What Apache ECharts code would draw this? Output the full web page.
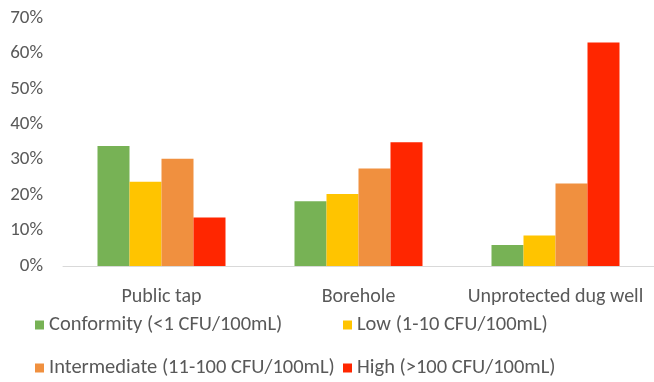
<!DOCTYPE html>
<html>
<head>
<meta charset="utf-8">
<script src="https://cdn.jsdelivr.net/npm/echarts@6/dist/echarts.min.js"></script>
<style>
  html, body { margin: 0; padding: 0; background: #ffffff; }
  #chart { width: 654px; height: 382px; }
</style>
</head>
<body>
<div id="chart"></div>
<script>
// Share of samples (%) in each contamination class, by water source
const categories = ['Public tap', 'Borehole', 'Unprotected dug well'];
const conformity = [33.9, 18.3, 5.9];
const low = [23.8, 20.3, 8.6];
const intermediate = [30.3, 27.5, 23.3];
const high = [13.7, 34.9, 63.1];
const seriesNames = [
  'Conformity (<1 CFU/100mL)',
  'Low (1-10 CFU/100mL)',
  'Intermediate (11-100 CFU/100mL)',
  'High (>100 CFU/100mL)'
];
const yTicks = { min: 0, max: 70, interval: 10 };

const colors = ['#77B255', '#FFC400', '#F0903F', '#FF2600'];
const FONT = 'Carlito, Lato, sans-serif';
const TEXT = '#595959';

const chart = echarts.init(document.getElementById('chart'), null, { renderer: 'canvas' });

// one legend block per entry so the two columns line up
function legendAt(name, left, top) {
  return {
    data: [name],
    left: left,
    top: top,
    padding: 0,
    icon: 'rect',
    itemWidth: 9,
    itemHeight: 9,
    selectedMode: false,
    textStyle: { color: TEXT, fontFamily: FONT, fontSize: 20.5, lineHeight: 22 }
  };
}

const seriesData = [conformity, low, intermediate, high];

chart.setOption({
  animation: false,
  color: colors,
  grid: { left: 63, top: 18, width: 601, height: 248, containLabel: false },
  legend: [
    legendAt(seriesNames[0], 35, 314),
    legendAt(seriesNames[1], 343, 314),
    legendAt(seriesNames[2], 35, 357),
    legendAt(seriesNames[3], 343, 357)
  ],
  xAxis: {
    type: 'category',
    data: categories,
    axisLine: { show: true, lineStyle: { color: '#D9D9D9', width: 1 } },
    axisTick: { show: false },
    axisLabel: { interval: 0, color: TEXT, fontFamily: FONT, fontSize: 20, margin: 21 }
  },
  yAxis: {
    type: 'value',
    min: yTicks.min,
    max: yTicks.max,
    interval: yTicks.interval,
    splitLine: { show: false },
    axisLine: { show: false },
    axisTick: { show: false },
    axisLabel: { color: TEXT, fontFamily: FONT, fontSize: 19, margin: 20, formatter: '{value}%' }
  },
  series: seriesNames.map((name, i) => ({
    name: name,
    type: 'bar',
    data: seriesData[i],
    barWidth: 32,
    barGap: '0%',
    itemStyle: { color: colors[i] }
  }))
});
</script>
</body>
</html>
